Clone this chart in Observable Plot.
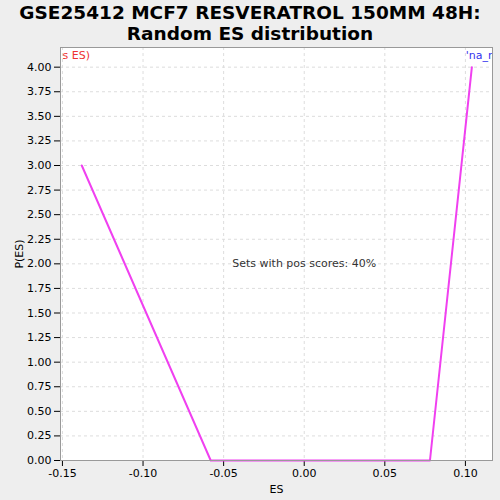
<!DOCTYPE html>
<html><head>
<meta charset="utf-8">
<script src="https://cdn.jsdelivr.net/npm/d3@7"></script>
<script src="https://cdn.jsdelivr.net/npm/@observablehq/plot@0.6"></script>
<style>
body{margin:0;background:#eeeeee;width:500px;height:500px;overflow:hidden;font-family:"DejaVu Sans",sans-serif}
#t{height:46px;text-align:center;font-weight:bold;font-size:18.5px;line-height:21px;padding-top:2px;box-sizing:border-box}
</style></head><body>
<div id="t">GSE25412 MCF7 RESVERATROL 150MM 48H:<br>Random ES distribution</div>
<div id="c"></div>
<script>
const esValues = [-0.138, -0.058, 0.078, 0.104];
const pValues = [3.0, 0.0, 0.0, 4.0];
const xTicks = [-0.15, -0.10, -0.05, 0.00, 0.05, 0.10];
const yTicks = d3.range(0, 4.01, 0.25);
const data = esValues.map((x, i) => ({x, y: pValues[i]}));
const fmt = d => d.toFixed(2);
const chart = Plot.plot({
  width: 500, height: 454,
  marginTop: 1, marginLeft: 60, marginRight: 8, marginBottom: 40,
  style: {background: "transparent", fontSize: "11px", fontFamily: "DejaVu Sans"},
  x: {domain: [-0.1512, 0.1168], ticks: xTicks, tickFormat: fmt, label: "ES", labelArrow: "none", labelAnchor: "center", labelOffset: 32},
  y: {domain: [0, 4.2], ticks: yTicks, tickFormat: fmt, label: "P(ES)", labelArrow: "none", labelAnchor: "center", labelOffset: 45},
  marks: [
    Plot.frame({fill: "white"}),
    Plot.gridX(xTicks, {stroke: "#ddd", strokeDasharray: "3,3", strokeOpacity: 1}),
    Plot.gridY(yTicks, {stroke: "#ddd", strokeDasharray: "3,3", strokeOpacity: 1}),
    Plot.line(data, {x: "x", y: "y", stroke: "#f040f0", strokeWidth: 2}),
    Plot.text(["Sets with pos scores: 40%"], {x: 0.0, y: 2.0, fontSize: 11, fill: "#333"}),
    Plot.text(["s ES)"], {frameAnchor: "top-left", dx: 2, dy: 4, fill: "#ee3333", fontSize: 11}),
    Plot.text(["'na_r"], {frameAnchor: "top-right", dx: 0, dy: 4, fill: "#3333ee", fontSize: 11}),
    Plot.frame({stroke: "#999"})
  ]
});
document.getElementById("c").append(chart);
</script>
</body></html>
